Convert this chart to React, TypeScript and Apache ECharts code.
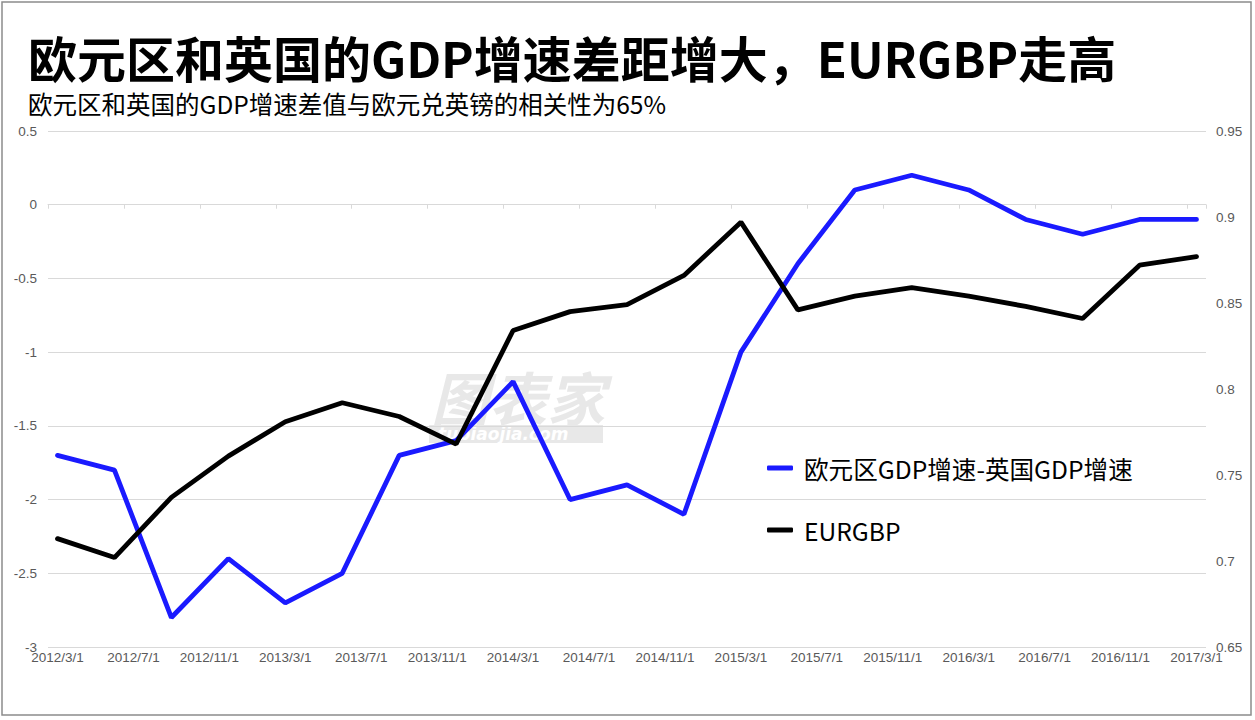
import React, { useEffect, useRef } from "react";
import * as echarts from "echarts";

// Quarterly observation dates
const quarters = [
  "2012/3/1", "2012/6/1", "2012/9/1", "2012/12/1",
  "2013/3/1", "2013/6/1", "2013/9/1", "2013/12/1",
  "2014/3/1", "2014/6/1", "2014/9/1", "2014/12/1",
  "2015/3/1", "2015/6/1", "2015/9/1", "2015/12/1",
  "2016/3/1", "2016/6/1", "2016/9/1", "2016/12/1",
  "2017/3/1",
];

// 欧元区GDP增速-英国GDP增速 (left axis)
const gdpDiff = [
  -1.7, -1.8, -2.8, -2.4,
  -2.7, -2.5, -1.7, -1.6,
  -1.2, -2.0, -1.9, -2.1,
  -1.0, -0.4, 0.1, 0.2,
  0.1, -0.1, -0.2, -0.1,
  -0.1,
];

// EURGBP (right axis)
const eurgbp = [
  0.713, 0.702, 0.737, 0.761,
  0.781, 0.792, 0.784, 0.768,
  0.834, 0.845, 0.849, 0.866,
  0.897, 0.846, 0.854, 0.859,
  0.854, 0.848, 0.841, 0.872,
  0.877,
];

const seriesNames = ["欧元区GDP增速-英国GDP增速", "EURGBP"];
const seriesColors = ["#1a1aff", "#000000"];
const leftAxis = { min: -3, max: 0.5, interval: 0.5 };
const rightAxis = { min: 0.65, max: 0.95, interval: 0.05 };

// Monthly category slots from 2012/3/1 to 2017/3/1 (labels every 4 months)
const months: string[] = [];
for (let i = 0; i <= 60; i++) {
  const m = 2 + i;
  months.push(`${2012 + Math.floor(m / 12)}/${(m % 12) + 1}/1`);
}

const TITLE = "欧元区和英国的GDP增速差距增大，EURGBP走高";
const SUBTITLE = "欧元区和英国的GDP增速差值与欧元兑英镑的相关性为65%";

export default function App() {
  const ref = useRef<HTMLDivElement>(null);

  useEffect(() => {
    document.body.style.margin = "0";
    if (!ref.current) return;
    const chart = echarts.init(ref.current, null, { renderer: "svg" });
    const labelFont = {
      color: "#595959",
      fontSize: 13.5,
      fontFamily: "Liberation Sans, Arial, sans-serif",
    };
    chart.setOption({
      animation: false,
      backgroundColor: "#ffffff",
      grid: { left: 48, right: 49, top: 131, bottom: 73 },
      xAxis: [
        {
          type: "category",
          data: months,
          boundaryGap: true,
          position: "bottom",
          axisLine: { show: false, onZero: false },
          axisTick: { show: false },
          axisLabel: { ...labelFont, interval: 3, margin: 3 },
          splitLine: { show: false },
        },
        {
          type: "category",
          data: months,
          boundaryGap: true,
          position: "top",
          axisLine: {
            show: true,
            onZero: true,
            onZeroAxisIndex: 0,
            lineStyle: { color: "#d9d9d9", width: 1 },
          },
          axisTick: {
            show: true,
            interval: 3,
            inside: true,
            length: 4,
            lineStyle: { color: "#d9d9d9", width: 1 },
          },
          axisLabel: { show: false },
          splitLine: { show: false },
        },
      ],
      yAxis: [
        {
          type: "value",
          position: "left",
          min: leftAxis.min,
          max: leftAxis.max,
          interval: leftAxis.interval,
          axisLine: { show: false },
          axisTick: { show: false },
          axisLabel: { ...labelFont, margin: 11 },
          splitLine: { show: true, lineStyle: { color: "#d9d9d9", width: 1 } },
        },
        {
          type: "value",
          position: "right",
          min: rightAxis.min,
          max: rightAxis.max,
          interval: rightAxis.interval,
          axisLine: { show: false },
          axisTick: { show: false },
          axisLabel: { ...labelFont, margin: 10 },
          splitLine: { show: false },
        },
      ],
      legend: {
        orient: "vertical",
        left: 767,
        top: 453,
        padding: 0,
        icon: "roundRect",
        itemWidth: 26,
        itemHeight: 5,
        itemGap: 32,
        data: seriesNames,
        textStyle: {
          fontSize: 24.6,
          lineHeight: 30,
          color: "#000000",
          fontFamily: "Noto Sans CJK SC",
          padding: [0, 0, 0, 6],
        },
      },
      series: [
        {
          name: seriesNames[0],
          type: "line",
          xAxisIndex: 0,
          yAxisIndex: 0,
          data: quarters.map((q, i) => [q, gdpDiff[i]]),
          symbol: "none",
          lineStyle: { color: seriesColors[0], width: 4.8, cap: "round" },
          itemStyle: { color: seriesColors[0] },
        },
        {
          name: seriesNames[1],
          type: "line",
          xAxisIndex: 0,
          yAxisIndex: 1,
          data: quarters.map((q, i) => [q, eurgbp[i]]),
          symbol: "none",
          lineStyle: { color: seriesColors[1], width: 4.8, cap: "round" },
          itemStyle: { color: seriesColors[1] },
        },
      ],
      graphic: [
        {
          type: "rect",
          z: -10,
          shape: { x: 2, y: 2, width: 1249, height: 713 },
          style: { fill: "none", stroke: "#8c8c8c", lineWidth: 1.5 },
        },
        {
          type: "text",
          x: 28,
          y: 56,
          style: {
            text: TITLE,
            fill: "#000000",
            font: 'bold 49px "Noto Sans CJK SC"',
            textVerticalAlign: "middle",
          },
        },
        {
          type: "text",
          x: 28,
          y: 103,
          style: {
            text: SUBTITLE,
            fill: "#000000",
            font: '24.5px "Noto Sans CJK SC"',
            textVerticalAlign: "middle",
          },
        },
        {
          type: "text",
          x: 431,
          y: 396,
          z: -5,
          style: {
            text: "图表家",
            fill: "#e8e8e8",
            font: 'italic bold 58px "Noto Sans CJK SC"',
            textVerticalAlign: "middle",
          },
        },
        {
          type: "rect",
          z: -5,
          shape: { x: 429, y: 425, width: 174, height: 18 },
          style: { fill: "#e8e8e8" },
        },
        {
          type: "text",
          x: 438,
          y: 434,
          z: -4,
          style: {
            text: "tubiaojia.com",
            fill: "#ffffff",
            font: 'italic bold 17px "DejaVu Sans"',
            textVerticalAlign: "middle",
          },
        },
      ],
    });
    return () => chart.dispose();
  }, []);

  return <div ref={ref} style={{ width: 1255, height: 720 }} />;
}
